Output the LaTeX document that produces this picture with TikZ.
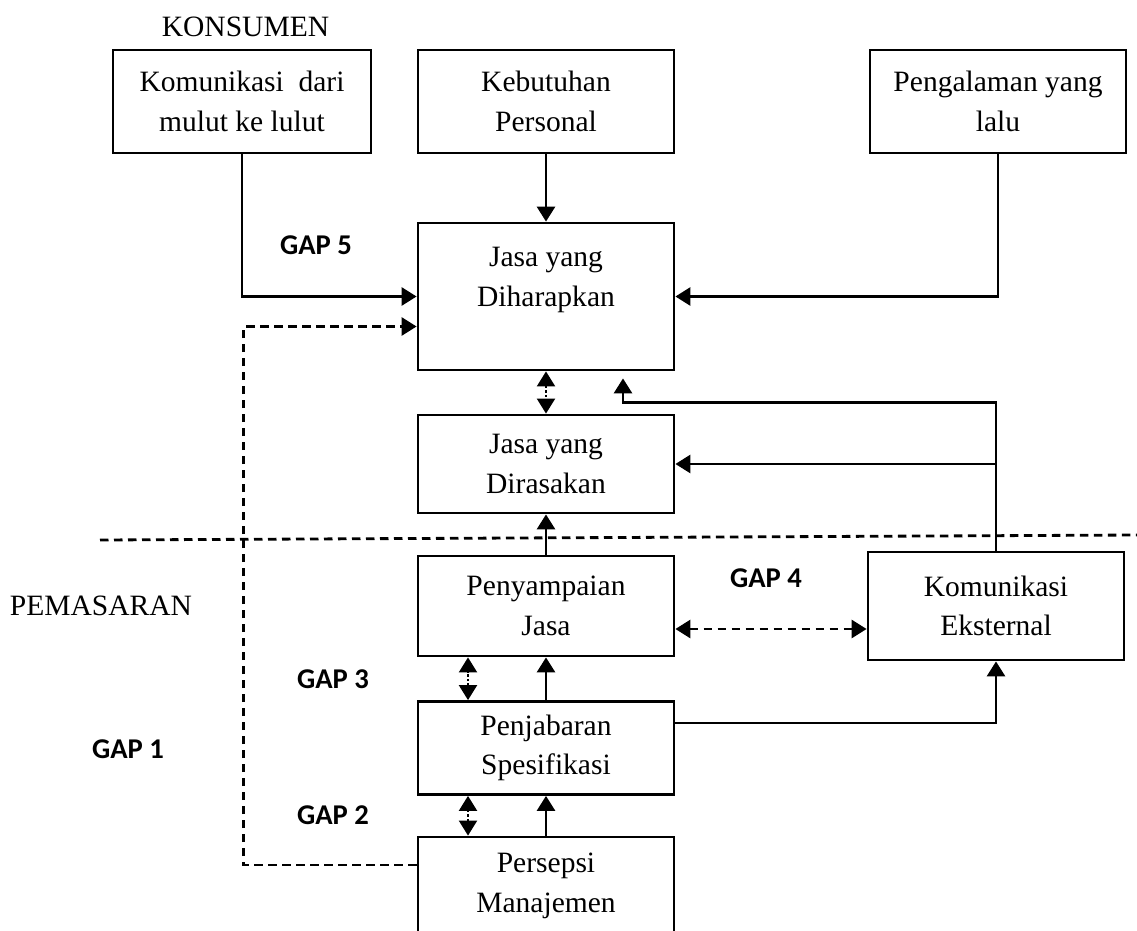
\documentclass[tikz,border=0pt]{standalone}
\usepackage{fontspec}
\setmainfont{Liberation Serif}
\newfontfamily\gapfont{Carlito}
\usetikzlibrary{arrows.meta,positioning}

\begin{document}
\begin{tikzpicture}[-,>={Triangle[length=0.3cm,width=0.36cm]},line width=1.6pt,node distance=2.84cm,
    box/.style={draw,minimum width=5.12cm,align=center,inner sep=2pt,font=\fontsize{16.8}{22.5}\selectfont},
    gap/.style={font=\gapfont\bfseries\fontsize{16.3}{19}\selectfont},
    side/.style={font=\fontsize{16.8}{20}\selectfont},
    dashline/.style={dash pattern=on 0.17cm off 0.11cm},
    dotline/.style={<->,line width=1.2pt,dash pattern=on 0.05cm off 0.04cm}]

    \useasboundingbox (0,0) rectangle (22.74,-18.62);

    \node[box, minimum height=2.94cm] (dih) at (10.92,-5.93) {Jasa yang\\Diharapkan\\~};
    \node[box, minimum height=2.06cm] (keb) [above of = dih, node distance=3.9cm] {Kebutuhan\\Personal};
    \node[box, minimum height=2.06cm, minimum width=5.16cm] (kom) [left of = keb, node distance=6.08cm] {Komunikasi~ dari\\mulut ke lulut};
    \node[box, minimum height=2.06cm] (peng) [right of = keb, node distance=9.04cm] {Pengalaman yang\\lalu};
    \node[box, minimum height=1.96cm] (ras) [below of = dih, node distance=3.35cm] {Jasa yang\\Dirasakan};
    \node[box, minimum height=2cm] (pny) [below of = ras] {Penyampaian\\Jasa};
    \node[box, minimum height=2.16cm] (eks) [right of = pny, node distance=9cm] {Komunikasi\\Eksternal};
    \node[box, minimum height=1.86cm] (spk) [below of = pny] {Penjabaran\\Spesifikasi};
    \node[box, minimum height=1.96cm] (msp) [below of = spk, node distance=2.76cm] {Persepsi\\Manajemen};

    \node[side] (konsumen) at (4.91,-0.54) {KONSUMEN};
    \node[side] (pemasaran) at (2.02,-12.12) {PEMASARAN};
    \node[gap] (gap5) at (6.32,-4.9) {GAP 5};
    \node[gap] (gap4) at (15.32,-11.56) {GAP 4};
    \node[gap] (gap3) at (6.66,-13.58) {GAP 3};
    \node[gap] (gap1) at (2.56,-14.98) {GAP 1};
    \node[gap] (gap2) at (6.66,-16.3) {GAP 2};

    \coordinate (sepL) at (2,-10.8);
    \coordinate (sepR) at (22.74,-10.7);
    \draw[dashline] (sepL) -- (sepR);

    \draw[->] (kom.south) |- (dih.west);
    \draw[->] (keb) -- (dih);
    \draw[->] (peng.south) |- (dih.east);
    \draw[->,dashline] ([yshift=0.42cm]msp.west) -- ++(-3.46,0) |- ([yshift=-0.6cm]dih.west);
    \draw[dotline] (dih) -- (ras);
    \draw[->] (eks.north) |- ([xshift=1.54cm,yshift=-0.62cm]dih.south) -- ([xshift=1.54cm,yshift=-0.14cm]dih.south);
    \draw[->] (eks.north |- ras.east) -- (ras.east);
    \draw[->] (pny) -- (ras);
    \draw[<->,dashline] ([yshift=-0.46cm]pny.east) -- ([yshift=-0.46cm]pny.east -| eks.west);
    \draw[dotline] ([xshift=-1.56cm]spk.north) -- ([xshift=-1.56cm]pny.south);
    \draw[->] (spk) -- (pny);
    \draw[->] ([yshift=0.5cm]spk.east) -| (eks.south);
    \draw[dotline] ([xshift=-1.56cm]msp.north) -- ([xshift=-1.56cm]spk.south);
    \draw[->] (msp) -- (spk);
\end{tikzpicture}
\end{document}
